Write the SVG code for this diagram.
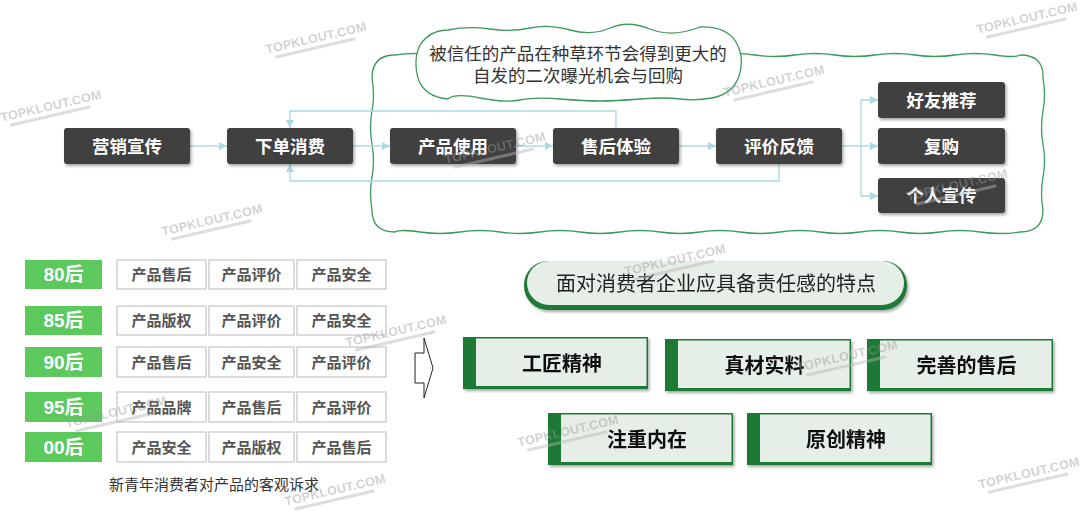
<svg xmlns="http://www.w3.org/2000/svg" width="1080" height="511" viewBox="0 0 1080 511">
<style>
text{font-family:"Liberation Sans","Noto Sans CJK SC",sans-serif}
.dk{fill:#404040}
.dt{fill:#fff;font-size:17.5px;font-weight:bold;text-anchor:middle}
.cn{fill:none;stroke:#a9dbdf;stroke-width:1.3}
.cloud{fill:none;stroke:#3d9a5c;stroke-width:1.3}
.tag{fill:#5bc95b}
.tt{fill:#fff;font-size:19px;font-weight:bold;text-anchor:middle}
.cell{fill:#fff;stroke:#d0d0d0;stroke-width:1.5}
.ct{fill:#555;font-size:15px;font-weight:bold;text-anchor:middle}
.cdk{fill:#1e7a34}
.clt{fill:#e5efe7}
.cdt{fill:#111;font-size:20px;font-weight:bold;text-anchor:middle}
.wm text{fill:#9a9a9a;font-size:12.5px;font-weight:bold;text-anchor:middle;letter-spacing:0.3px}
.wm rect{fill:#b5b5b5}
.wm{opacity:0.45}
</style>
<defs>
<filter id="sh" x="-10%" y="-20%" width="130%" height="160%">
<feDropShadow dx="1.5" dy="2" stdDeviation="1.5" flood-color="#000" flood-opacity="0.35"/>
</filter>
<marker id="ar" viewBox="0 0 10 10" refX="10" refY="5" markerWidth="8" markerHeight="8" markerUnits="userSpaceOnUse" orient="auto">
<path d="M0,0 L10,5 L0,10 Z" fill="#a9dbdf"/>
</marker>
</defs>
<rect width="1080" height="511" fill="#fff"/>

<g id="big-cloud">
<path class="cloud" d="M 395 55 Q 415 52 435 55 T 475 55 T 515 55 T 555 55 T 595 55 T 635 55 T 675 55 T 715 55 T 755 55 T 795 55 T 835 55 T 875 55 T 915 55 T 955 55 T 995 55 T 1020 55 Q 1044 55 1043 78 Q 1046 94 1043 111 T 1043 144 T 1043 177 T 1043 210 Q 1043 232 1020 232 Q 1000 235 980 232 T 940 232 T 900 232 T 860 232 T 820 232 T 780 232 T 740 232 T 700 232 T 660 232 T 620 232 T 580 232 T 540 232 T 500 232 T 460 232 T 420 232 T 395 232 Q 372 232 372 210 Q 369 193 372 177 T 372 144 T 372 111 T 372 78 Q 372 55 395 55 Z"/>
</g>

<g id="connectors">
<path class="cn" d="M190 146 H227" marker-end="url(#ar)"/>
<path class="cn" d="M353 146 H390" marker-end="url(#ar)"/>
<path class="cn" d="M516 146 H553" marker-end="url(#ar)"/>
<path class="cn" d="M679 146 H716" marker-end="url(#ar)"/>
<path class="cn" d="M616 128 V111 H290 V128" marker-end="url(#ar)"/>
<path class="cn" d="M779 164 V181 H290 V164" marker-end="url(#ar)"/>
<path class="cn" d="M842 146 H878" marker-end="url(#ar)"/>
<path class="cn" d="M861 146 V100 H878" marker-end="url(#ar)"/>
<path class="cn" d="M861 146 V196 H878" marker-end="url(#ar)"/>
</g>

<g id="note-cloud">
<path d="M 448 30 Q 468 26 490 29 T 530 28 T 570 30 T 610 28 T 650 29 T 700 27 Q 726 26 736 42 Q 745 58 739 76 Q 733 94 712 98 Q 695 101 680 99 T 640 99 T 600 101 T 560 99 T 520 100 T 480 98 T 448 99 Q 424 97 418 78 Q 413 60 420 45 Q 430 30 448 30 Z" fill="#fff" stroke="#3d9a5c" stroke-width="1.3"/>
<text x="578" y="60" font-size="17.5" fill="#333" text-anchor="middle">被信任的产品在种草环节会得到更大的</text>
<text x="578" y="82" font-size="17.5" fill="#333" text-anchor="middle">自发的二次曝光机会与回购</text>
</g>

<g id="n-yingxiao"><rect class="dk" x="64" y="128" width="126" height="36" rx="3" filter="url(#sh)"/><text class="dt" x="127" y="153">营销宣传</text></g>
<g id="n-xiadan"><rect class="dk" x="227" y="128" width="126" height="36" rx="3" filter="url(#sh)"/><text class="dt" x="290" y="153">下单消费</text></g>
<g id="n-shiyong"><rect class="dk" x="390" y="128" width="126" height="36" rx="3" filter="url(#sh)"/><text class="dt" x="453" y="153">产品使用</text></g>
<g id="n-shouhou"><rect class="dk" x="553" y="128" width="126" height="36" rx="3" filter="url(#sh)"/><text class="dt" x="616" y="153">售后体验</text></g>
<g id="n-pingjia"><rect class="dk" x="716" y="128" width="126" height="36" rx="3" filter="url(#sh)"/><text class="dt" x="779" y="153">评价反馈</text></g>
<g id="n-haoyou"><rect class="dk" x="878" y="82" width="127" height="36" rx="3" filter="url(#sh)"/><text class="dt" x="941.5" y="107">好友推荐</text></g>
<g id="n-fugou"><rect class="dk" x="878" y="128" width="127" height="36" rx="3" filter="url(#sh)"/><text class="dt" x="941.5" y="153">复购</text></g>
<g id="n-geren"><rect class="dk" x="878" y="178" width="127" height="35" rx="3" filter="url(#sh)"/><text class="dt" x="941.5" y="202">个人宣传</text></g>

<g id="table">
<g id="row80">
<rect class="tag" x="25" y="260" width="77" height="29"/><text class="tt" x="63.5" y="281">80后</text>
<rect class="cell" x="117" y="260" width="89" height="29"/><text class="ct" x="161.5" y="280">产品售后</text>
<rect class="cell" x="209" y="260" width="85" height="29"/><text class="ct" x="251.5" y="280">产品评价</text>
<rect class="cell" x="297" y="260" width="89" height="29"/><text class="ct" x="341.5" y="280">产品安全</text>
</g>
<g id="row85">
<rect class="tag" x="25" y="306" width="77" height="29"/><text class="tt" x="63.5" y="327">85后</text>
<rect class="cell" x="117" y="306" width="89" height="29"/><text class="ct" x="161.5" y="326">产品版权</text>
<rect class="cell" x="209" y="306" width="85" height="29"/><text class="ct" x="251.5" y="326">产品评价</text>
<rect class="cell" x="297" y="306" width="89" height="29"/><text class="ct" x="341.5" y="326">产品安全</text>
</g>
<g id="row90">
<rect class="tag" x="25" y="347" width="77" height="30"/><text class="tt" x="63.5" y="369">90后</text>
<rect class="cell" x="117" y="347" width="89" height="30"/><text class="ct" x="161.5" y="368">产品售后</text>
<rect class="cell" x="209" y="347" width="85" height="30"/><text class="ct" x="251.5" y="368">产品安全</text>
<rect class="cell" x="297" y="347" width="89" height="30"/><text class="ct" x="341.5" y="368">产品评价</text>
</g>
<g id="row95">
<rect class="tag" x="25" y="392" width="77" height="30"/><text class="tt" x="63.5" y="414">95后</text>
<rect class="cell" x="117" y="392" width="89" height="30"/><text class="ct" x="161.5" y="413">产品品牌</text>
<rect class="cell" x="209" y="392" width="85" height="30"/><text class="ct" x="251.5" y="413">产品售后</text>
<rect class="cell" x="297" y="392" width="89" height="30"/><text class="ct" x="341.5" y="413">产品评价</text>
</g>
<g id="row00">
<rect class="tag" x="25" y="432" width="77" height="30"/><text class="tt" x="63.5" y="454">00后</text>
<rect class="cell" x="117" y="432" width="89" height="30"/><text class="ct" x="161.5" y="453">产品安全</text>
<rect class="cell" x="209" y="432" width="85" height="30"/><text class="ct" x="251.5" y="453">产品版权</text>
<rect class="cell" x="297" y="432" width="89" height="30"/><text class="ct" x="341.5" y="453">产品售后</text>
</g>
<text x="214" y="490" font-size="15" fill="#333" text-anchor="middle">新青年消费者对产品的客观诉求</text>
</g>

<g id="block-arrow">
<path d="M415 353 H424 V338 L433 368 L424 398 V383 H415 Z" fill="#fff" stroke="#222" stroke-width="1"/>
</g>

<g id="title-pill" filter="url(#sh)">
<rect x="524" y="261" width="383" height="49" rx="24" fill="#1e7a34"/>
<rect x="527" y="261" width="377" height="44" rx="22" fill="#e5efe7"/>
<text x="716" y="291" font-size="20" fill="#222" text-anchor="middle">面对消费者企业应具备责任感的特点</text>
</g>

<g id="c-gongjiang" filter="url(#sh)"><rect class="cdk" x="463" y="337" width="185" height="52"/><rect class="clt" x="476" y="338.5" width="170.5" height="47.5"/><text class="cdt" x="562" y="371">工匠精神</text></g>
<g id="c-zhencai" filter="url(#sh)"><rect class="cdk" x="665" y="339" width="186" height="52"/><rect class="clt" x="678" y="340.5" width="171.5" height="47.5"/><text class="cdt" x="764.5" y="373">真材实料</text></g>
<g id="c-wanshan" filter="url(#sh)"><rect class="cdk" x="867" y="339" width="186" height="52"/><rect class="clt" x="880" y="340.5" width="171.5" height="47.5"/><text class="cdt" x="966.5" y="373">完善的售后</text></g>
<g id="c-zhuzhong" filter="url(#sh)"><rect class="cdk" x="548" y="413" width="185" height="52"/><rect class="clt" x="561" y="414.5" width="170.5" height="47.5"/><text class="cdt" x="647" y="447">注重内在</text></g>
<g id="c-yuanchuang" filter="url(#sh)"><rect class="cdk" x="747" y="413" width="185" height="52"/><rect class="clt" x="760" y="414.5" width="170.5" height="47.5"/><text class="cdt" x="846" y="447">原创精神</text></g>

<g id="watermarks">
<g class="wm" transform="translate(317,42) rotate(-13)"><text y="0">TOPKLOUT.COM</text><rect x="-44" y="4" width="82" height="3"/></g>
<g class="wm" transform="translate(52,110) rotate(-13)"><text y="0">TOPKLOUT.COM</text><rect x="-44" y="4" width="82" height="3"/></g>
<g class="wm" transform="translate(1028,22) rotate(-13)"><text y="0">TOPKLOUT.COM</text><rect x="-44" y="4" width="82" height="3"/></g>
<g class="wm" transform="translate(213,224) rotate(-13)"><text y="0">TOPKLOUT.COM</text><rect x="-44" y="4" width="82" height="3"/></g>
<g class="wm" transform="translate(496,152) rotate(-13)"><text y="0">TOPKLOUT.COM</text><rect x="-44" y="4" width="82" height="3"/></g>
<g class="wm" transform="translate(775,85) rotate(-13)"><text y="0">TOPKLOUT.COM</text><rect x="-44" y="4" width="82" height="3"/></g>
<g class="wm" transform="translate(958,189) rotate(-13)"><text y="0">TOPKLOUT.COM</text><rect x="-44" y="4" width="82" height="3"/></g>
<g class="wm" transform="translate(397,335) rotate(-13)"><text y="0">TOPKLOUT.COM</text><rect x="-44" y="4" width="82" height="3"/></g>
<g class="wm" transform="translate(117,416) rotate(-13)"><text y="0">TOPKLOUT.COM</text><rect x="-44" y="4" width="82" height="3"/></g>
<g class="wm" transform="translate(336,494) rotate(-13)"><text y="0">TOPKLOUT.COM</text><rect x="-44" y="4" width="82" height="3"/></g>
<g class="wm" transform="translate(676,264) rotate(-13)"><text y="0">TOPKLOUT.COM</text><rect x="-44" y="4" width="82" height="3"/></g>
<g class="wm" transform="translate(848,360) rotate(-13)"><text y="0">TOPKLOUT.COM</text><rect x="-44" y="4" width="82" height="3"/></g>
<g class="wm" transform="translate(569,435) rotate(-13)"><text y="0">TOPKLOUT.COM</text><rect x="-44" y="4" width="82" height="3"/></g>
<g class="wm" transform="translate(1030,477) rotate(-13)"><text y="0">TOPKLOUT.COM</text><rect x="-44" y="4" width="82" height="3"/></g>
</g>
</svg>
